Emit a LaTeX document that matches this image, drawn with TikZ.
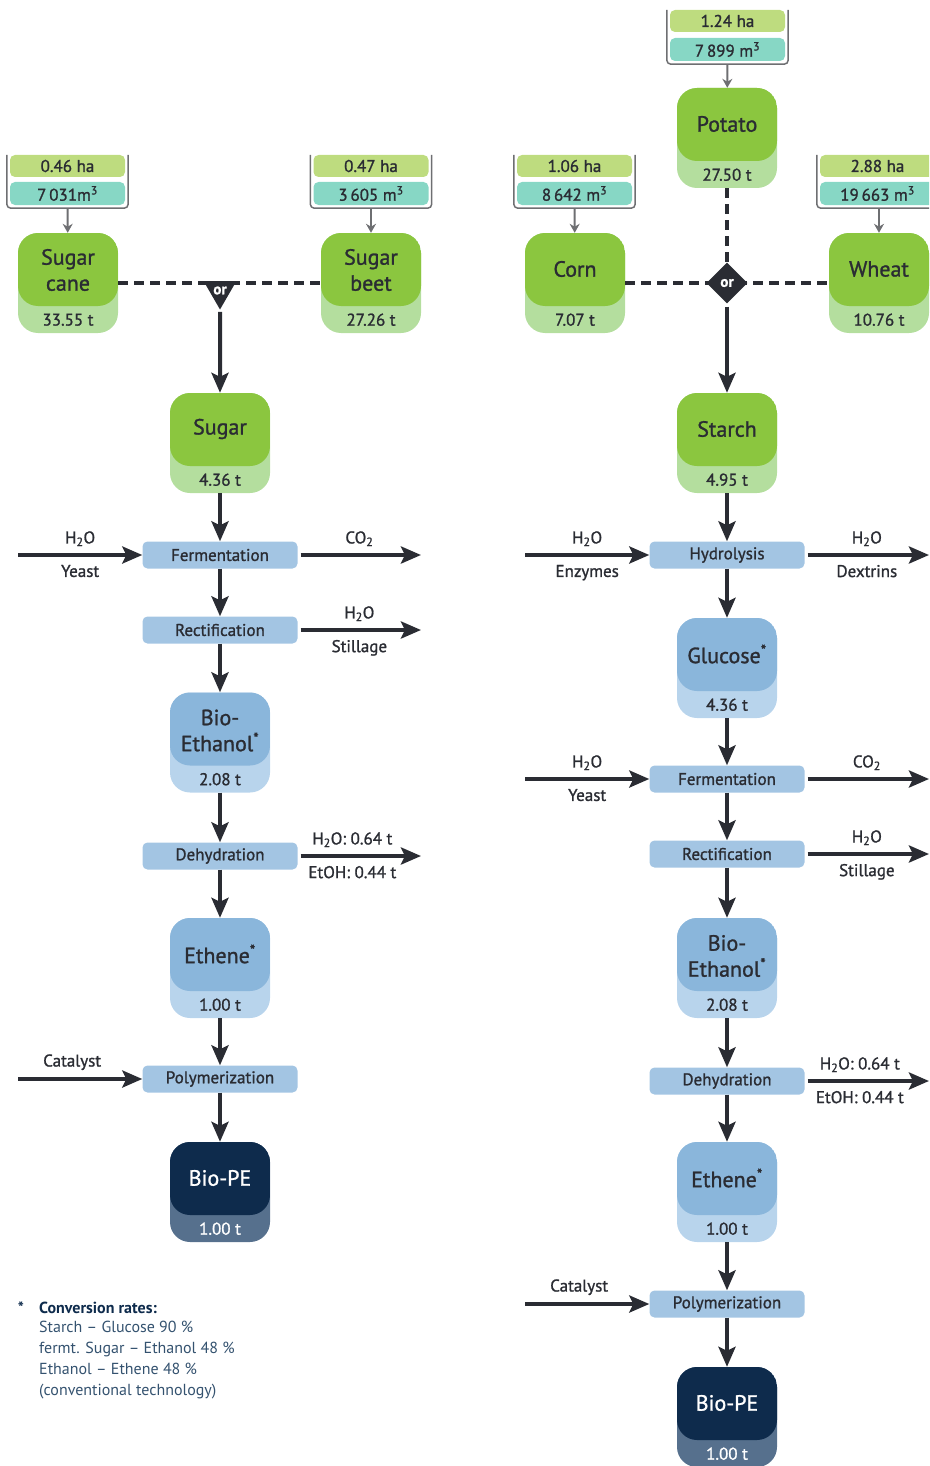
\documentclass[tikz,border=0pt]{standalone}
\usepackage{fontspec}
\setmainfont{PT Sans}[FakeBold=1.2]
\newfontfamily\notefont{PT Sans}[Ligatures=TeX]
\usetikzlibrary{arrows.meta,shapes.geometric}
\definecolor{leaf}{HTML}{8BC63F}
\definecolor{leafpale}{HTML}{B4DE9E}
\definecolor{hagreen}{HTML}{BEDC7F}
\definecolor{water}{HTML}{87D7C5}
\definecolor{stepblue}{HTML}{A3C5E3}
\definecolor{prodblue}{HTML}{8AB6DB}
\definecolor{prodpale}{HTML}{B8D4EC}
\definecolor{navy}{HTML}{0E2B4C}
\definecolor{navypale}{HTML}{56708D}
\definecolor{ink}{HTML}{2A2C33}
\definecolor{greyline}{HTML}{6E6F72}
\definecolor{notecol}{HTML}{34526F}

\begin{document}
\begin{tikzpicture}[x=1pt,y=-1pt,
	stock/.style 2 args={rounded corners=20pt,minimum width=100pt,minimum height=100pt,inner sep=0pt,fill=#2,
		path picture={\fill[#1] (path picture bounding box.north west) rectangle ([yshift=27pt]path picture bounding box.south east);}},
	headtext/.style={font=\fontsize{22}{26}\selectfont,text=ink,align=center,inner sep=0pt},
	amount/.style={font=\fontsize{17}{19}\selectfont,text=ink,inner sep=0pt},
	areabox/.style={fill=hagreen,rounded corners=5pt,minimum width=115pt,minimum height=22pt,inner sep=0pt,font=\fontsize{17}{19}\selectfont,text=ink},
	waterbox/.style={areabox,fill=water,minimum height=23pt},
	stage/.style={fill=stepblue,rounded corners=5pt,minimum width=155pt,minimum height=27pt,inner sep=0pt,font=\fontsize{17}{19}\selectfont,text=ink},
	lbl/.style={font=\fontsize{17}{19}\selectfont,text=ink,inner sep=2pt},
	flow/.style={draw=ink,line width=4pt,-{Stealth[length=20pt,width=17pt,inset=4pt]}},
	feed/.style={draw=greyline,line width=2pt,shorten <=3pt,-{Stealth[length=9pt,width=10pt]}},
	bracket/.style={draw=greyline,line width=1.5pt,rounded corners=4pt},
	orline/.style={draw=ink,line width=4pt,dash pattern=on 10pt off 6pt},
	ornode/.style={fill=ink,text=white,inner sep=0pt,font=\bfseries\fontsize{15}{15}\selectfont},
	note/.style={font=\notefont\fontsize{16}{21}\selectfont,text=notecol,inner sep=0pt,align=left}]
	\clip (0,0) rectangle (929,1466);

	\node[areabox] (caneHa) at (67.5,166) {0.46 ha};
	\node[waterbox] (caneW) at (67.5,193.5) {7\,031m\textsuperscript{3}};
	\node[areabox] (beetHa) at (371,166) {0.47 ha};
	\node[waterbox] (beetW) at (371,193.5) {3\,605 m\textsuperscript{3}};
	\draw[bracket] ([xshift=-3pt]caneHa.north west) -- ([xshift=-3pt,yshift=-3pt]caneW.south west) -- ([xshift=3pt,yshift=-3pt]caneW.south east) -- ([xshift=3pt]caneHa.north east);
	\draw[bracket] ([xshift=-3pt]beetHa.north west) -- ([xshift=-3pt,yshift=-3pt]beetW.south west) -- ([xshift=3pt,yshift=-3pt]beetW.south east) -- ([xshift=3pt]beetHa.north east);

	\node[stock={leaf}{leafpale}] (cane) at (68,283) {};
	\node[headtext] (caneT) at ([yshift=13pt]cane.center) {Sugar\\cane};
	\node[amount] (caneV) at ([yshift=13.5pt]cane.south) {33.55 t};
	\node[stock={leaf}{leafpale}] (beet) at (371,283) {};
	\node[headtext] (beetT) at ([yshift=13pt]beet.center) {Sugar\\beet};
	\node[amount] (beetV) at ([yshift=13.5pt]beet.south) {27.26 t};
	\draw[feed] (caneW) -- (cane);
	\draw[feed] (beetW) -- (beet);
	\draw[orline] (cane.east) -- (beet.west);
	\node[ornode,regular polygon,regular polygon sides=3,shape border rotate=180,minimum size=38pt] (orL) at (220,290.5) {or};

	\node[stock={leaf}{leafpale}] (sugar) at (220,443) {};
	\node[headtext] (sugarT) at ([yshift=14pt]sugar.center) {Sugar};
	\node[amount] (sugarV) at ([yshift=13.5pt]sugar.south) {4.36 t};
	\node[stage] (fermL) at (220,555) {Fermentation};
	\node[stage] (rectL) at (220,630) {Rectification};
	\node[stock={prodblue}{prodpale}] (ethL) at (220,742.5) {};
	\node[headtext] (ethLT) at ([yshift=12pt]ethL.center) {Bio-\\Ethanol\textsuperscript{*}};
	\node[amount] (ethLV) at ([yshift=13.5pt]ethL.south) {2.08 t};
	\node[stage] (dehL) at (220,856) {Dehydration};
	\node[stock={prodblue}{prodpale}] (etheneL) at (220,968) {};
	\node[headtext] (etheneLT) at ([yshift=14pt]etheneL.center) {Ethene\textsuperscript{*}};
	\node[amount] (etheneLV) at ([yshift=13.5pt]etheneL.south) {1.00 t};
	\node[stage] (polyL) at (220,1079) {Polymerization};
	\node[stock={navy}{navypale}] (peL) at (220,1192) {};
	\node[headtext,text=white] (peLT) at ([yshift=14pt]peL.center) {Bio-PE};
	\node[amount,text=white] (peLV) at ([yshift=13.5pt]peL.south) {1.00 t};

	\draw[flow,shorten <=2pt] (orL.south) -- (sugar.north);
	\draw[flow] (sugar) -- (fermL);
	\draw[flow] (fermL) -- (rectL);
	\draw[flow] (rectL) -- (ethL);
	\draw[flow] (ethL) -- (dehL);
	\draw[flow] (dehL) -- (etheneL);
	\draw[flow] (etheneL) -- (polyL);
	\draw[flow] (polyL) -- (peL);

	\coordinate (inL1) at (18,555);
	\coordinate (outL1) at (421,555);
	\coordinate (outL2) at (421,630);
	\coordinate (outL3) at (421,856);
	\coordinate (inL4) at (18,1079);
	\draw[flow] (inL1) -- node[lbl,above=5pt] (inL1a) {H\textsubscript{2}O} node[lbl,below=6pt] (inL1b) {Yeast} (fermL);
	\draw[flow,shorten <=3pt] (fermL) -- node[lbl,above=5pt] (outL1a) {CO\textsubscript{2}} (outL1);
	\draw[flow,shorten <=3pt] (rectL) -- node[lbl,above=5pt] (outL2a) {H\textsubscript{2}O} node[lbl,below=6pt] (outL2b) {Stillage} (outL2);
	\draw[flow,shorten <=3pt] (dehL) -- node[lbl,above=5pt,xshift=-7pt] (outL3a) {H\textsubscript{2}O: 0.64 t} node[lbl,below=6pt,xshift=-7pt] (outL3b) {EtOH: 0.44 t} (outL3);
	\draw[flow] (inL4) -- node[lbl,above=5pt,xshift=-8pt] (inL4a) {Catalyst} (polyL);

	\node[areabox] (potHa) at (727.5,21) {1.24 ha};
	\node[waterbox] (potW) at (727.5,49.5) {7\,899 m\textsuperscript{3}};
	\node[areabox] (cornHa) at (574.5,166) {1.06 ha};
	\node[waterbox] (cornW) at (574.5,193.5) {8\,642 m\textsuperscript{3}};
	\node[areabox] (wheatHa) at (877.5,166) {2.88 ha};
	\node[waterbox] (wheatW) at (877.5,193.5) {19\,663 m\textsuperscript{3}};
	\draw[bracket] ([xshift=-3pt]potHa.north west) -- ([xshift=-3pt,yshift=-3pt]potW.south west) -- ([xshift=3pt,yshift=-3pt]potW.south east) -- ([xshift=3pt]potHa.north east);
	\draw[bracket] ([xshift=-3pt]cornHa.north west) -- ([xshift=-3pt,yshift=-3pt]cornW.south west) -- ([xshift=3pt,yshift=-3pt]cornW.south east) -- ([xshift=3pt]cornHa.north east);
	\draw[bracket] ([xshift=-3pt]wheatHa.north west) -- ([xshift=-3pt,yshift=-3pt]wheatW.south west) -- ([xshift=3pt,yshift=-3pt]wheatW.south east) -- ([xshift=3pt]wheatHa.north east);

	\node[stock={leaf}{leafpale}] (potato) at (727,138) {};
	\node[headtext] (potatoT) at ([yshift=14pt]potato.center) {Potato};
	\node[amount] (potatoV) at ([yshift=13.5pt]potato.south) {27.50 t};
	\node[stock={leaf}{leafpale}] (corn) at (575,283) {};
	\node[headtext] (cornT) at ([yshift=14pt]corn.center) {Corn};
	\node[amount] (cornV) at ([yshift=13.5pt]corn.south) {7.07 t};
	\node[stock={leaf}{leafpale}] (wheat) at (879,283) {};
	\node[headtext] (wheatT) at ([yshift=14pt]wheat.center) {Wheat};
	\node[amount] (wheatV) at ([yshift=13.5pt]wheat.south) {10.76 t};
	\draw[feed] (potW) -- (potato);
	\draw[feed] (cornW) -- (corn);
	\draw[feed] (wheatW.south -| wheat) -- (wheat);
	\draw[orline] (corn.east) -- (wheat.west);
	\draw[orline] (potato.south) -- (727,270);
	\node[ornode,diamond,minimum size=41pt] (orR) at (727,283) {or};

	\node[stock={leaf}{leafpale}] (starch) at (727,443) {};
	\node[headtext] (starchT) at ([yshift=14pt]starch.center) {Starch};
	\node[amount] (starchV) at ([yshift=13.5pt]starch.south) {4.95 t};
	\node[stage] (hydR) at (727,555) {Hydrolysis};
	\node[stock={prodblue}{prodpale}] (gluR) at (727,668) {};
	\node[headtext] (gluRT) at ([yshift=14pt]gluR.center) {Glucose\textsuperscript{*}};
	\node[amount] (gluRV) at ([yshift=13.5pt]gluR.south) {4.36 t};
	\node[stage] (fermR) at (727,779) {Fermentation};
	\node[stage] (rectR) at (727,854) {Rectification};
	\node[stock={prodblue}{prodpale}] (ethR) at (727,968) {};
	\node[headtext] (ethRT) at ([yshift=12pt]ethR.center) {Bio-\\Ethanol\textsuperscript{*}};
	\node[amount] (ethRV) at ([yshift=13.5pt]ethR.south) {2.08 t};
	\node[stage] (dehR) at (727,1081) {Dehydration};
	\node[stock={prodblue}{prodpale}] (etheneR) at (727,1192) {};
	\node[headtext] (etheneRT) at ([yshift=14pt]etheneR.center) {Ethene\textsuperscript{*}};
	\node[amount] (etheneRV) at ([yshift=13.5pt]etheneR.south) {1.00 t};
	\node[stage] (polyR) at (727,1304) {Polymerization};
	\node[stock={navy}{navypale}] (peR) at (727,1417) {};
	\node[headtext,text=white] (peRT) at ([yshift=14pt]peR.center) {Bio-PE};
	\node[amount,text=white] (peRV) at ([yshift=13.5pt]peR.south) {1.00 t};

	\draw[flow,shorten <=3pt] (orR.south) -- (starch.north);
	\draw[flow] (starch) -- (hydR);
	\draw[flow] (hydR) -- (gluR);
	\draw[flow] (gluR) -- (fermR);
	\draw[flow] (fermR) -- (rectR);
	\draw[flow] (rectR) -- (ethR);
	\draw[flow] (ethR) -- (dehR);
	\draw[flow] (dehR) -- (etheneR);
	\draw[flow] (etheneR) -- (polyR);
	\draw[flow] (polyR) -- (peR);

	\coordinate (inR1) at (525,555);
	\coordinate (outR1) at (929,555);
	\coordinate (inR2) at (525,779);
	\coordinate (outR2) at (929,779);
	\coordinate (outR3) at (929,854);
	\coordinate (outR4) at (929,1081);
	\coordinate (inR5) at (525,1304);
	\draw[flow] (inR1) -- node[lbl,above=5pt] (inR1a) {H\textsubscript{2}O} node[lbl,below=6pt] (inR1b) {Enzymes} (hydR);
	\draw[flow,shorten <=3pt] (hydR) -- node[lbl,above=5pt] (outR1a) {H\textsubscript{2}O} node[lbl,below=6pt] (outR1b) {Dextrins} (outR1);
	\draw[flow] (inR2) -- node[lbl,above=5pt] (inR2a) {H\textsubscript{2}O} node[lbl,below=6pt] (inR2b) {Yeast} (fermR);
	\draw[flow,shorten <=3pt] (fermR) -- node[lbl,above=5pt] (outR2a) {CO\textsubscript{2}} (outR2);
	\draw[flow,shorten <=3pt] (rectR) -- node[lbl,above=5pt] (outR3a) {H\textsubscript{2}O} node[lbl,below=6pt] (outR3b) {Stillage} (outR3);
	\draw[flow,shorten <=3pt] (dehR) -- node[lbl,above=5pt,xshift=-7pt] (outR4a) {H\textsubscript{2}O: 0.64 t} node[lbl,below=6pt,xshift=-7pt] (outR4b) {EtOH: 0.44 t} (outR4);
	\draw[flow] (inR5) -- node[lbl,above=5pt,xshift=-8pt] (inR5a) {Catalyst} (polyR);

	\node[note,text=navy,font=\notefont\bfseries\fontsize{16}{21}\selectfont] (star) at (21,1308) {*};
	\node[note,text=navy,font=\notefont\bfseries\fontsize{16}{21}\selectfont,anchor=west] (noteT) at (39,1308) {Conversion rates:};
	\node[note,anchor=north west] (noteB) at (39,1321) {Starch – Glucose 90~\%\\fermt. Sugar – Ethanol 48~\%\\Ethanol – Ethene 48~\%\\(conventional technology)};
\end{tikzpicture}
\end{document}
